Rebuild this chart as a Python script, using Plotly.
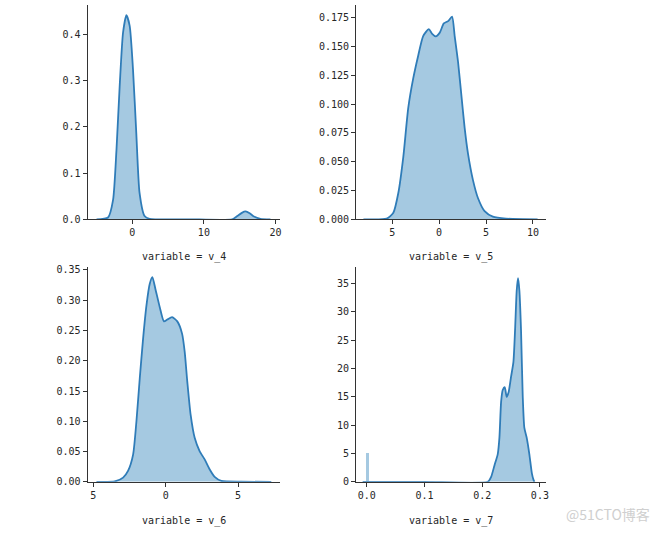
import plotly.graph_objects as go

# ---- data ----
titles = ["variable = v_4", "variable = v_5", "variable = v_6", "variable = v_7"]

v4_x = [-5.0, -3.39, -2.69, -2.22, -1.76, -1.30, -0.83, -0.37, 0.09, 0.56, 1.01, 1.71, 2.4,
        8.0, 13.97, 14.67, 15.3, 15.83, 16.4, 17.0, 17.9, 19.3]
v4_y = [0.0, 0.004, 0.042, 0.149, 0.29, 0.403, 0.441, 0.418, 0.325, 0.184, 0.057, 0.007, 0.001,
        0.0, 0.0, 0.007, 0.014, 0.017, 0.013, 0.006, 0.001, 0.0]

v5_x = [-8.07, -5.59, -4.88, -4.35, -3.82, -3.29, -2.76, -2.23, -1.70, -1.10, -0.74, -0.35, 0.07,
        0.50, 0.96, 1.38, 1.66, 2.02, 2.37, 2.72, 3.08, 3.61, 4.14, 4.85, 5.73, 7.14, 10.5]
v5_y = [0.0, 0.0006, 0.0057, 0.0228, 0.054, 0.0967, 0.1223, 0.142, 0.159, 0.165, 0.161, 0.1587,
        0.162, 0.170, 0.172, 0.1758, 0.159, 0.1365, 0.108, 0.0796, 0.057, 0.034, 0.0185, 0.0071,
        0.0023, 0.0006, 0.0]

v6_x = [-4.78, -3.52, -2.94, -2.60, -2.25, -2.02, -1.79, -1.56, -1.33, -1.10, -0.92, -0.71, -0.41,
        -0.12, 0.11, 0.44, 0.80, 1.13, 1.31, 1.49, 1.72, 2.0, 2.34, 2.69, 3.03, 3.38, 3.84, 5.22, 7.29]
v6_y = [0.0, 0.0007, 0.007, 0.018, 0.045, 0.100, 0.171, 0.2366, 0.291, 0.327, 0.338, 0.3186,
        0.2885, 0.265, 0.268, 0.272, 0.265, 0.2448, 0.215, 0.1656, 0.111, 0.0727, 0.0508, 0.037,
        0.0208, 0.0082, 0.0016, 0.0003, 0.0]

v7_x = [-0.007, 0.1, 0.2098, 0.2155, 0.2213, 0.227, 0.2299, 0.2328, 0.2356, 0.2391, 0.2425, 0.246,
        0.25, 0.2541, 0.257, 0.2598, 0.2621, 0.2645, 0.2673, 0.2702, 0.2731, 0.2771, 0.2817,
        0.2862, 0.2891, 0.2905]
v7_y = [0.0, 0.0, 0.0, 0.87, 2.9, 4.9, 7.8, 14.1, 16.2, 16.7, 15.0, 15.9, 18.5, 21.1, 26.8, 33.7,
        35.9, 33.7, 26.8, 15.3, 9.5, 7.8, 4.9, 1.45, 0.3, 0.0]

v7_bar_x = [0.0018]
v7_bar_y = [5.0]
v7_bar_w = [0.0058]

xs = [v4_x, v5_x, v6_x, v7_x]
ys = [v4_y, v5_y, v6_y, v7_y]

x_ranges = [[-6.25, 20.7], [-8.85, 11.38], [-5.39, 7.92], [-0.0183, 0.3103]]
y_ranges = [[0, 0.463], [0, 0.186], [0, 0.354], [0, 37.8]]

x_tickvals = [[0, 10, 20], [-5, 0, 5, 10], [-5, 0, 5], [0.0, 0.1, 0.2, 0.3]]
x_ticktext = [["0", "10", "20"], ["5", "0", "5", "10"], ["5", "0", "5"], ["0.0", "0.1", "0.2", "0.3"]]
y_tickvals = [[0, 0.1, 0.2, 0.3, 0.4],
              [0, 0.025, 0.05, 0.075, 0.1, 0.125, 0.15, 0.175],
              [0, 0.05, 0.1, 0.15, 0.2, 0.25, 0.3, 0.35],
              [0, 5, 10, 15, 20, 25, 30, 35]]
y_ticktext = [["0.0", "0.1", "0.2", "0.3", "0.4"],
              ["0.000", "0.025", "0.050", "0.075", "0.100", "0.125", "0.150", "0.175"],
              ["0.00", "0.05", "0.10", "0.15", "0.20", "0.25", "0.30", "0.35"],
              ["0", "5", "10", "15", "20", "25", "30", "35"]]

# ---- layout geometry ----
W, H = 671, 537
x_doms = [[88 / W, 281.7 / W], [357.7 / W, 548.3 / W], [88 / W, 281.7 / W], [357.7 / W, 548.3 / W]]
y_doms = [[1 - 220 / H, 1 - 2 / H], [1 - 220 / H, 1 - 2 / H],
          [1 - 487 / H, 1 - 269 / H], [1 - 487 / H, 1 - 269 / H]]
title_y = [258.7, 258.7, 526.5, 526.5]

LINE = "#2f7cb8"
FILL = "rgba(31,119,180,0.4)"
FONT = "DejaVu Sans Mono"
TXT = "#262626"

fig = go.Figure()
for i in range(4):
    xa = "x" if i == 0 else f"x{i+1}"
    ya = "y" if i == 0 else f"y{i+1}"
    if i == 3:
        fig.add_trace(go.Bar(x=v7_bar_x, y=v7_bar_y, width=v7_bar_w, marker=dict(color=FILL, line=dict(width=0)),
                             xaxis=xa, yaxis=ya, showlegend=False))
    fig.add_trace(go.Scatter(x=xs[i], y=ys[i], mode="lines", line=dict(color=LINE, width=1.8, shape="spline", smoothing=0.6),
                             fill="tozeroy", fillcolor=FILL, xaxis=xa, yaxis=ya, showlegend=False))

    axis_common = dict(showgrid=False, zeroline=False, showline=True, linecolor="#333333", linewidth=1.2,
                       ticks="outside", ticklen=4, tickcolor="#333333", tickwidth=1,
                       tickfont=dict(family=FONT, size=10, color=TXT))
    fig.layout[("xaxis" if i == 0 else f"xaxis{i+1}")] = dict(
        domain=x_doms[i], range=x_ranges[i], anchor=ya, tickmode="array",
        tickvals=x_tickvals[i], ticktext=x_ticktext[i], **axis_common)
    fig.layout[("yaxis" if i == 0 else f"yaxis{i+1}")] = dict(
        domain=y_doms[i], range=y_ranges[i], anchor=xa, tickmode="array",
        tickvals=y_tickvals[i], ticktext=y_ticktext[i], **axis_common)

    fig.add_annotation(text=titles[i], x=(x_doms[i][0] + x_doms[i][1]) / 2, y=1 - title_y[i] / H,
                       xref="paper", yref="paper", showarrow=False, xanchor="center", yanchor="middle",
                       font=dict(family=FONT, size=10, color=TXT))

fig.add_annotation(text="@51CTO博客", x=611 / W, y=1 - 520 / H, xref="paper", yref="paper",
                   showarrow=False, xanchor="center", yanchor="middle",
                   font=dict(family="Noto Sans CJK SC", size=14, color="#cfcfcf"))

fig.update_layout(width=W, height=H, margin=dict(l=0, r=0, t=0, b=0),
                  paper_bgcolor="white", plot_bgcolor="white", bargap=0)

fig.write_html("out.html")
